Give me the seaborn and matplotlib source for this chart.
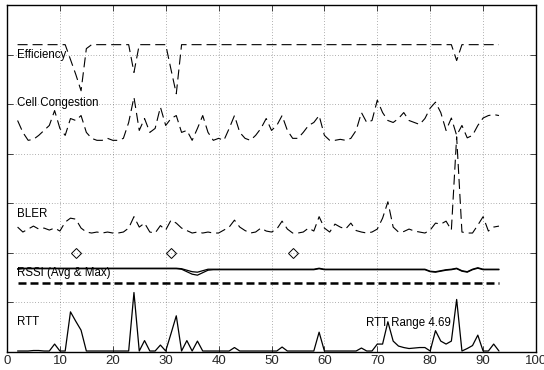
import numpy as np
import pandas as pd
import seaborn as sns
import matplotlib.pyplot as plt

# =============================
# Data (each trace in grid units, stacked on its own baseline)
# =============================
samples = list(range(2, 94))

efficiency = [0, 0, 0, 0, 0, 0, 0, 0, 0, 0,
              -0.3, -0.6, -0.93, -0.08, 0, 0, 0, 0, 0, 0,
              0, 0, -0.56, 0, 0, 0, 0, 0, 0, -0.5,
              -0.99, 0, 0, 0, 0, 0, 0, 0, 0, 0,
              0, 0, 0, 0, 0, 0, 0, 0, 0, 0,
              0, 0, 0, 0, 0, 0, 0, 0, 0, 0,
              0, 0, 0, 0, 0, 0, 0, 0, 0, 0,
              0, 0, 0, 0, 0, 0, 0, 0, 0, 0,
              0, 0, 0, -0.32, 0, 0, 0, 0, 0, 0,
              0, 0]

congestion = [0.40, 0.16, 0, 0.02, 0.10, 0.20, 0.30, 0.60, 0.24, 0.10,
              0.44, 0.40, 0.50, 0.16, 0.04, 0, 0, 0.04, 0, 0,
              0.04, 0.36, 0.87, 0.20, 0.44, 0.16, 0.24, 0.67, 0.30, 0.44,
              0.50, 0.16, 0.20, 0, 0.24, 0.50, 0.16, 0, 0.04, 0,
              0.24, 0.50, 0.16, 0.04, 0, 0.10, 0.24, 0.44, 0.20, 0.30,
              0.50, 0.20, 0.04, 0.04, 0.16, 0.30, 0.36, 0.50, 0.10, 0,
              0, 0.02, 0, 0.04, 0.20, 0.56, 0.36, 0.40, 0.81, 0.56,
              0.40, 0.36, 0.44, 0.56, 0.40, 0.36, 0.32, 0.44, 0.65, 0.77,
              0.56, 0.20, 0.45, 0.10, 0.30, 0.05, 0.10, 0.30, 0.45, 0.50,
              0.52, 0.50]

bler = [0.12, 0.02, 0.08, 0.14, 0.08, 0.10, 0.06, 0.10, 0.04, 0.22,
        0.30, 0.28, 0.10, 0.02, 0, 0.02, 0, 0.02, 0, 0,
        0.02, 0.10, 0.33, 0.12, 0.20, 0.02, 0, 0.15, 0.06, 0.26,
        0.20, 0.10, 0.05, 0, 0.02, 0, 0.02, 0, 0, 0.06,
        0.12, 0.26, 0.12, 0.05, 0, 0.02, 0.10, 0.04, 0.02, 0.08,
        0.24, 0.08, 0, 0, 0.02, 0.10, 0.04, 0.33, 0.10, 0.02,
        0.18, 0.12, 0.08, 0.20, 0.05, 0.02, 0, 0.02, 0.08, 0.30,
        0.63, 0.12, 0.02, 0.03, 0.08, 0.04, 0.02, 0, 0.06, 0.20,
        0.18, 0.24, 0.06, 1.94, 0.02, 0, 0, 0.16, 0.33, 0.04,
        0.12, 0.14]

event_samples = [13, 31, 54]

rssi_max = [-0.01, 0, 0, 0, 0, 0, 0, 0, 0, 0,
            0, 0, 0, 0, 0, 0, 0, 0, 0, 0,
            0, 0, 0, 0, 0, 0, 0, 0, 0, 0,
            0, -0.01, -0.04, -0.07, -0.08, -0.05, -0.02, -0.02, -0.02, -0.02,
            -0.02, -0.02, -0.02, -0.02, -0.02, -0.02, -0.02, -0.02, -0.02, -0.02,
            -0.02, -0.02, -0.02, -0.02, -0.02, -0.02, -0.02, 0, -0.02, -0.02,
            -0.02, -0.02, -0.02, -0.02, -0.02, -0.02, -0.02, -0.02, -0.02, -0.02,
            -0.02, -0.02, -0.02, -0.02, -0.02, -0.02, -0.02, -0.02, -0.06, -0.07,
            -0.05, -0.03, -0.02, 0, -0.05, -0.07, -0.02, 0.01, -0.02, -0.02,
            -0.02, -0.02]

rssi_avg = [-0.02, -0.01, -0.01, -0.01, -0.01, -0.01, -0.01, -0.01, -0.01, -0.01,
            -0.01, -0.01, -0.01, -0.01, -0.01, -0.01, -0.01, -0.01, -0.01, -0.01,
            -0.01, -0.01, -0.01, -0.01, -0.01, -0.01, -0.01, -0.01, -0.01, -0.01,
            -0.01, -0.02, -0.07, -0.12, -0.14, -0.09, -0.04, -0.03, -0.03, -0.03,
            -0.03, -0.03, -0.03, -0.03, -0.03, -0.03, -0.03, -0.03, -0.03, -0.03,
            -0.03, -0.03, -0.03, -0.03, -0.03, -0.03, -0.03, -0.01, -0.03, -0.03,
            -0.03, -0.03, -0.03, -0.03, -0.03, -0.03, -0.03, -0.03, -0.03, -0.03,
            -0.03, -0.03, -0.03, -0.03, -0.03, -0.03, -0.03, -0.03, -0.07, -0.08,
            -0.06, -0.04, -0.03, -0.01, -0.06, -0.08, -0.03, 0, -0.03, -0.03,
            -0.03, -0.03]

rssi_threshold = -0.29

rtt = [0, 0, 0, 0.01, 0.01, 0, 0, 0.14, 0, 0,
       0.79, 0.60, 0.42, 0, 0, 0, 0, 0, 0, 0,
       0, 0, 1.18, 0, 0.21, 0, 0, 0.12, 0, 0.35,
       0.71, 0, 0.21, 0, 0.20, 0, 0, 0, 0, 0,
       0, 0.07, 0, 0, 0, 0, 0, 0, 0, 0,
       0.08, 0, 0, 0, 0, 0, 0, 0.38, 0, 0,
       0, 0, 0, 0, 0, 0.06, 0, 0, 0.14, 0.14,
       0.59, 0.20, 0.10, 0.07, 0.05, 0.06, 0.07, 0.07, 0, 0.41,
       0.20, 0.14, 0.20, 1.04, 0, 0.05, 0.11, 0.32, 0, 0,
       0.14, 0]

rtt_range = 4.69

# =============================
# Layout (baseline of each trace)
# =============================
BASE = {"Efficiency": 6.2, "Cell Congestion": 4.27, "BLER": 2.40,
        "Events": 2.0, "RSSI": 1.69, "RTT": 0.02}

# =============================
# Plot
# =============================
sns.set_style("ticks")
plt.rcParams["font.family"] = ["Liberation Sans", "DejaVu Sans"]

fig = plt.figure(figsize=(5.44, 3.70), dpi=100)
ax = fig.add_axes([7 / 544, 18 / 370, 529 / 544, 347 / 370])

x = np.array(samples)
thin_dash = (0, (9, 4.5))

sns.lineplot(x=x, y=BASE["Efficiency"] + np.array(efficiency), ax=ax,
             color="black", lw=0.8, linestyle=thin_dash)
sns.lineplot(x=x, y=BASE["Cell Congestion"] + np.array(congestion), ax=ax,
             color="black", lw=0.8, linestyle=thin_dash)
sns.lineplot(x=x, y=BASE["BLER"] + np.array(bler), ax=ax,
             color="black", lw=0.8, linestyle=thin_dash)

sns.lineplot(x=event_samples, y=[BASE["Events"]] * len(event_samples), ax=ax,
             color="black", linestyle="none", marker="D", ms=5,
             mfc="none", mec="black", mew=0.7)

sns.lineplot(x=x, y=BASE["RSSI"] + np.array(rssi_max), ax=ax,
             color="black", lw=0.9)
sns.lineplot(x=x, y=BASE["RSSI"] + np.array(rssi_avg), ax=ax,
             color="black", lw=0.9)
sns.lineplot(x=x, y=np.full(len(x), BASE["RSSI"] + rssi_threshold), ax=ax,
             color="black", lw=1.8, linestyle=(0, (3.2, 1.6)))

sns.lineplot(x=x, y=BASE["RTT"] + np.array(rtt), ax=ax,
             color="black", lw=0.9)

# labels
txt = dict(fontsize=8.3, ha="left", va="center", color="black")
ax.text(1.8, 6.0, "Efficiency", **txt)
ax.text(1.8, 5.02, "Cell Congestion", **txt)
ax.text(1.8, 2.78, "BLER", **txt)
ax.text(1.8, 1.59, "RSSI (Avg & Max)", **txt)
ax.text(1.8, 0.60, "RTT", **txt)
ax.text(67.8, 0.58, f"RTT Range {rtt_range}", **txt)

ax.set_xlim(0, 100)
ax.set_ylim(0, 7)
ax.set_xticks(range(0, 101, 10))
ax.set_yticks(range(0, 8))
ax.set_yticklabels([])
ax.set_xlabel("")
ax.set_ylabel("")
ax.tick_params(direction="in", length=4, width=0.6, top=True, right=True,
               labelsize=9.5, pad=2)
ax.grid(True, color="black", linestyle=(0, (1, 3)), lw=0.5, alpha=0.6)
for s in ax.spines.values():
    s.set_visible(True)
    s.set_linewidth(1.0)
    s.set_color("black")

fig.savefig("out.png", dpi=100)
